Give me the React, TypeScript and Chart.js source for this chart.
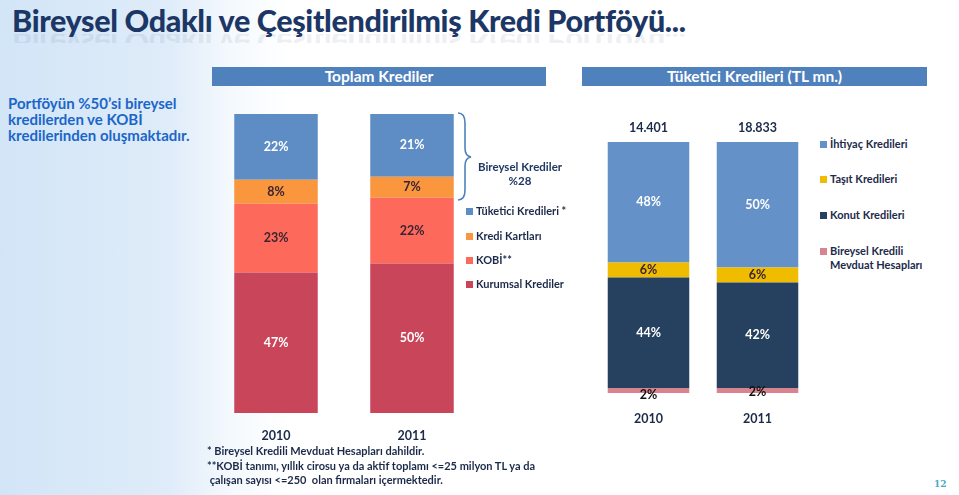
import React, { useEffect, useRef } from 'react';
import { Chart, registerables } from 'chart.js';

Chart.register(...registerables);

// ---------- Data ----------
const YEARS = ['2010', '2011'];

// Toplam Krediler (%), stacked bottom -> top
const KURUMSAL = [47, 50];
const KOBI = [23, 22];
const KREDI_KARTLARI = [8, 7];
const TUKETICI = [22, 21];
const TOPLAM_LABELS = ['Tüketici Kredileri *', 'Kredi Kartları', 'KOBİ**', 'Kurumsal Krediler'];
const TOPLAM_COLORS = ['#5E8DC6', '#F9963E', '#FD6A5B', '#C9465A'];

// Tüketici Kredileri (%), stacked bottom -> top
const BKMH = [2, 2];
const KONUT = [44, 42];
const TASIT = [6, 6];
const IHTIYAC = [48, 50];
const TUKETICI_TOTALS = ['14.401', '18.833'];
const TUK_LABELS = ['İhtiyaç Kredileri', 'Taşıt Kredileri', 'Konut Kredileri', 'Bireysel Kredili\nMevduat Hesapları'];
const TUK_COLORS = ['#6492C8', '#F0BC00', '#26405F', '#D88490'];

const FONT = 'Lato, "Open Sans", sans-serif';
const DARK = '#1C2A4A';

const segLabels = {
  id: 'segLabels',
  afterDatasetsDraw(chart: any) {
    const ctx = chart.ctx;
    chart.data.datasets.forEach((ds: any, i: number) => {
      const meta = chart.getDatasetMeta(i);
      meta.data.forEach((bar: any, j: number) => {
        const p = bar.getProps(['x', 'y', 'base'], true);
        const cy = (p.y + p.base) / 2 + (ds.labelDy ? ds.labelDy[j] : 0);
        ctx.save();
        ctx.font = `bold 12.5px ${FONT}`;
        ctx.fillStyle = ds.labelColor;
        ctx.textAlign = 'center';
        ctx.textBaseline = 'middle';
        ctx.fillText(ds.data[j] + '%', p.x, cy);
        ctx.restore();
      });
    });
  },
};

function makeTotals(totals: string[]) {
  return {
    id: 'totals',
    afterDatasetsDraw(chart: any) {
      const ctx = chart.ctx;
      const last = chart.getDatasetMeta(chart.data.datasets.length - 1);
      last.data.forEach((bar: any, j: number) => {
        const p = bar.getProps(['x', 'y'], true);
        ctx.save();
        ctx.font = `bold 12.5px ${FONT}`;
        ctx.fillStyle = DARK;
        ctx.textAlign = 'center';
        ctx.textBaseline = 'middle';
        ctx.fillText(totals[j], p.x, p.y - 14);
        ctx.restore();
      });
    },
  };
}

function baseOptions(barPct: number, tickPad: number, padTop: number) {
  return {
    responsive: false,
    maintainAspectRatio: false,
    animation: false as const,
    layout: { padding: { top: padTop, left: 0, right: 0, bottom: 0 } },
    plugins: { legend: { display: false }, tooltip: { enabled: false } },
    datasets: { bar: { categoryPercentage: 1, barPercentage: barPct } },
    scales: {
      x: {
        stacked: true,
        grid: { display: false, drawTicks: false },
        border: { display: false },
        ticks: { color: DARK, padding: tickPad, font: { family: FONT, size: 12.5, weight: 'bold' as const } },
      },
      y: { stacked: true, display: false, min: 0, max: 100 },
    },
  };
}

function ToplamChart() {
  const ref = useRef<HTMLCanvasElement>(null);
  useEffect(() => {
    const chart = new Chart(ref.current!, {
      type: 'bar',
      data: {
        labels: YEARS,
        datasets: [
          { label: TOPLAM_LABELS[3], data: KURUMSAL, backgroundColor: TOPLAM_COLORS[3], labelColor: '#FFFFFF' } as any,
          { label: TOPLAM_LABELS[2], data: KOBI, backgroundColor: TOPLAM_COLORS[2], labelColor: '#3A2432' } as any,
          { label: TOPLAM_LABELS[1], data: KREDI_KARTLARI, backgroundColor: TOPLAM_COLORS[1], labelColor: '#3A2432' } as any,
          { label: TOPLAM_LABELS[0], data: TUKETICI, backgroundColor: TOPLAM_COLORS[0], labelColor: '#FFFFFF' } as any,
        ],
      },
      options: baseOptions(0.614, 15, 0) as any,
      plugins: [segLabels],
    });
    return () => chart.destroy();
  }, []);
  return (
    <canvas ref={ref} width={272} height={344}
      style={{ position: 'absolute', left: 208, top: 114, width: 272, height: 344 }} />
  );
}

function TuketiciChart() {
  const ref = useRef<HTMLCanvasElement>(null);
  useEffect(() => {
    const chart = new Chart(ref.current!, {
      type: 'bar',
      data: {
        labels: YEARS,
        datasets: [
          { label: TUK_LABELS[3], data: BKMH, backgroundColor: TUK_COLORS[3], labelColor: '#111111', labelDy: [4, 1] } as any,
          { label: TUK_LABELS[2], data: KONUT, backgroundColor: TUK_COLORS[2], labelColor: '#FFFFFF' } as any,
          { label: TUK_LABELS[1], data: TASIT, backgroundColor: TUK_COLORS[1], labelColor: '#3A2432' } as any,
          { label: TUK_LABELS[0], data: IHTIYAC, backgroundColor: TUK_COLORS[0], labelColor: '#FFFFFF' } as any,
        ],
      },
      options: baseOptions(0.748, 18, 24) as any,
      plugins: [segLabels, makeTotals(TUKETICI_TOTALS)],
    });
    return () => chart.destroy();
  }, []);
  return (
    <canvas ref={ref} width={218} height={326}
      style={{ position: 'absolute', left: 594, top: 118, width: 218, height: 326 }} />
  );
}

const abs = (s: React.CSSProperties): React.CSSProperties => ({ position: 'absolute', ...s });

function Legend({ labels, colors, left, tops }: { labels: string[]; colors: string[]; left: number; tops: number[] }) {
  return (
    <>
      {labels.map((l, i) => (
        <div key={l} style={abs({ left, top: tops[i] - 7, display: 'flex', alignItems: 'flex-start', font: `bold 11px ${FONT}`, color: DARK, lineHeight: '14px', whiteSpace: 'pre' })}>
          <span style={{ display: 'inline-block', width: 7, height: 7, background: colors[i], marginTop: 3.5, marginRight: 3 }} />
          <span>{l}</span>
        </div>
      ))}
    </>
  );
}

const TITLE = 'Bireysel Odaklı ve Çeşitlendirilmiş Kredi Portföyü...';
const titleStyle: React.CSSProperties = { font: `900 30.5px ${FONT}`, color: '#1C3766', whiteSpace: 'nowrap', letterSpacing: -0.35, lineHeight: '36px', height: 36 };

export default function App() {
  return (
    <div style={{ position: 'fixed', left: 0, top: 0, width: 959, height: 495, overflow: 'hidden', fontFamily: FONT,
      background: 'linear-gradient(90deg, #d2e5f7 0px, #dfecf9 170px, #f4f9fd 230px, #ffffff 290px)' }}>
      {/* Title */}
      <div style={abs({ left: 12, top: 2, ...titleStyle })}>{TITLE}</div>
      <div style={abs({ left: 12, top: 34, height: 9, overflow: 'hidden', opacity: 0.07, filter: 'blur(0.4px)' })}>
        <div style={{ ...titleStyle, transform: 'scaleY(-1)', marginTop: -8 }}>{TITLE}</div>
      </div>

      {/* Side text */}
      <div style={abs({ left: 8, top: 95, font: `bold 15px ${FONT}`, color: '#1B66C9', lineHeight: '16px' })}>
        Portföyün %50’si bireysel<br />kredilerden ve KOBİ<br />kredilerinden oluşmaktadır.
      </div>

      {/* Headers */}
      <div style={abs({ left: 212, top: 67, width: 334, height: 19, background: '#4F81BD', color: '#FFFFFF', textAlign: 'center', font: `bold 15.5px ${FONT}`, lineHeight: '19px' })}>Toplam Krediler</div>
      <div style={abs({ left: 582, top: 67, width: 345, height: 19, background: '#4F81BD', color: '#FFFFFF', textAlign: 'center', font: `bold 15.5px ${FONT}`, lineHeight: '19px' })}>Tüketici Kredileri (TL mn.)</div>

      <ToplamChart />
      <TuketiciChart />

      {/* Brace + group label */}
      <svg style={abs({ left: 450, top: 108, width: 30, height: 100 })} width={30} height={100}>
        <path d="M8 5 Q15 5 15 15 L15 40 Q15 48 21 49 Q15 50 15 58 L15 82 Q15 92 8 92" fill="none" stroke="#4F81BD" strokeWidth={1.6} />
      </svg>
      <div style={abs({ left: 470, top: 160, width: 100, textAlign: 'center', font: `bold 11.5px ${FONT}`, color: '#1F3864', lineHeight: '14px' })}>
        Bireysel Krediler<br />%28
      </div>

      <Legend labels={TOPLAM_LABELS} colors={TOPLAM_COLORS} left={466} tops={[211, 236, 260, 284]} />
      <Legend labels={TUK_LABELS} colors={TUK_COLORS} left={820} tops={[144, 179, 215, 251]} />

      {/* Footnotes */}
      <div style={abs({ left: 207, top: 444, font: `bold 11px ${FONT}`, color: DARK, lineHeight: '14.5px', whiteSpace: 'pre' })}>
        {'* Bireysel Kredili Mevduat Hesapları dahildir.\n**KOBİ tanımı, yıllık cirosu ya da aktif toplamı <=25 milyon TL ya da\n çalışan sayısı <=250  olan firmaları içermektedir.'}
      </div>

      <div style={abs({ left: 934, top: 479, font: 'bold 9px "DejaVu Serif", serif', color: '#4BACC6' })}>12</div>
    </div>
  );
}
